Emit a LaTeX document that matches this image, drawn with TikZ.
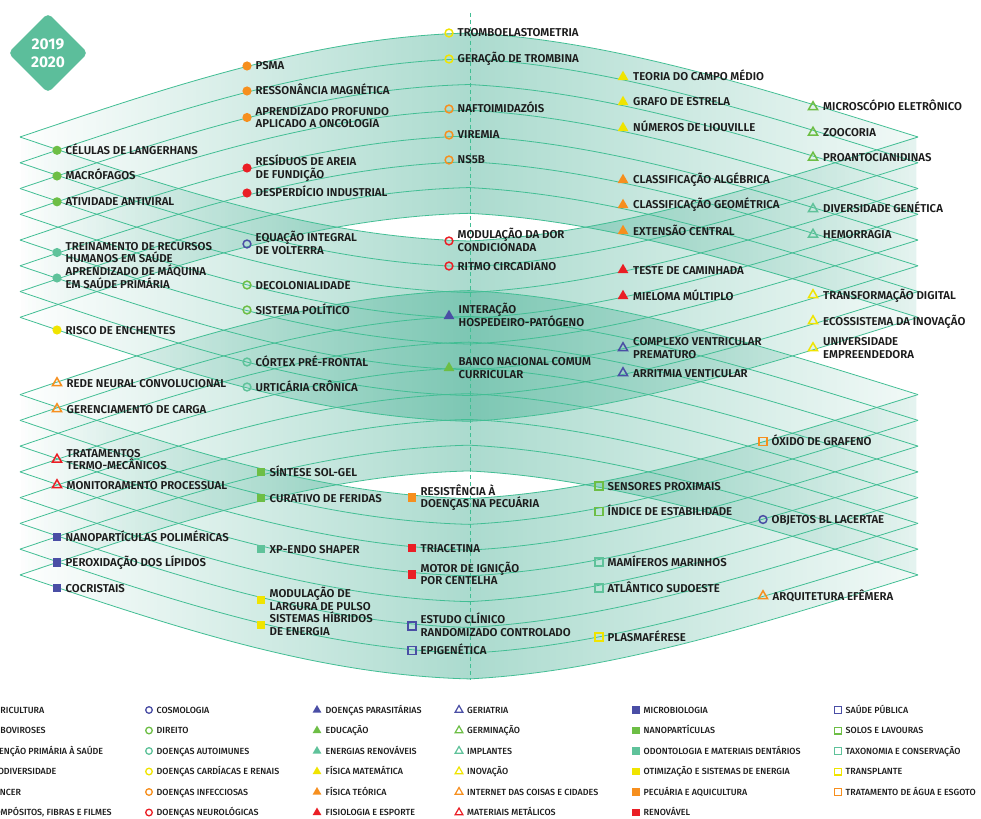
\documentclass[tikz,border=0pt]{standalone}
\usepackage{fontspec}
\setmainfont{Fira Sans}
\newfontfamily\medfont{Fira Sans SemiBold}
\newfontfamily\lgfont{Fira Sans Medium}
\usetikzlibrary{shapes.geometric,fadings}

\definecolor{cblue}{RGB}{74,78,165}
\definecolor{cgreen}{RGB}{109,190,69}
\definecolor{cteal}{RGB}{95,194,154}
\definecolor{cyellow}{RGB}{240,228,0}
\definecolor{corange}{RGB}{246,143,30}
\definecolor{cred}{RGB}{234,30,37}
\definecolor{linec}{RGB}{66,190,148}
\definecolor{bandc}{RGB}{70,176,148}
\definecolor{badgec}{RGB}{92,190,155}
\definecolor{txt}{RGB}{28,28,28}

\tikzfading[name=bandfade, left color=transparent!100, right color=transparent!85, middle color=transparent!0]

\pgfmathdeclarefunction{archf}{1}{\pgfmathparse{(#1<469.5)?(sin(((#1-20)/449)*90)-0.035*sin(((#1-20)/449)*180)):(sin(((918-#1)/449)*90)-0.07*sin(((918-#1)/449)*180))}}

\newcommand\mkone[6][8.5]{%
  \node[#3] (#2) at (#4,#5) {};
  \node[lbl] (#2t) at ([xshift=#1pt,yshift=-4pt]#2.center) {#6};}
\newcommand\mktwo[7][8.5]{%
  \node[#3] (#2) at (#4,#5) {};
  \node[lbl] (#2t) at ([xshift=#1pt,yshift=2.25pt]#2.center) {#6};
  \node[lbl] (#2u) at ([xshift=#1pt,yshift=-10.25pt]#2.center) {#7};}
\newcommand\lgd[6][7.5]{%
  \node[#3] (#2) at (#4,#5) {};
  \node[lgl] (#2t) at ([xshift=#1pt,yshift=-3.05pt]#2.center) {#6};}

\begin{document}
\begin{tikzpicture}[x=1pt,y=-1pt,
  arcline/.style={draw=linec, line width=0.8pt},
  bandfill/.style={fill=bandc, fill opacity=0.45, path fading=bandfade},
  lbl/.style={anchor=base west, inner sep=0pt, text=txt, font=\medfont\fontsize{11.4}{13}\selectfont},
  lgl/.style={anchor=base west, inner sep=0pt, text=txt, font=\lgfont\fontsize{8.9}{10}\selectfont},
  mkfc/.style={circle, fill=#1, draw=none, inner sep=0pt, minimum size=9.2pt},
  mkoc/.style={circle, draw=#1, fill=none, line width=1.5pt, inner sep=0pt, minimum size=7.8pt},
  mkft/.style={regular polygon, regular polygon sides=3, fill=#1, draw=none, inner sep=0pt, minimum size=12.5pt},
  mkot/.style={regular polygon, regular polygon sides=3, draw=#1, fill=none, line width=1.5pt, inner sep=0pt, minimum size=10.5pt},
  mkfs/.style={rectangle, fill=#1, draw=none, inner sep=0pt, minimum size=8.8pt},
  mkos/.style={rectangle, draw=#1, fill=none, line width=1.5pt, inner sep=0pt, minimum size=7.8pt},
  lfc/.style={mkfc=#1, minimum size=7.4pt},
  loc/.style={mkoc=#1, minimum size=6.6pt, line width=1.3pt},
  lft/.style={mkft=#1, minimum size=10pt},
  lot/.style={mkot=#1, minimum size=9pt, line width=1.2pt},
  lfs/.style={mkfs=#1, minimum size=7.4pt},
  los/.style={mkos=#1, minimum size=6.8pt, line width=1.2pt}
]
\useasboundingbox (0,0) rectangle (981,818);
\fill[white] (0,0) rectangle (981,818);
\clip (0,0) rectangle (981,818);

% bands
\fill[bandfill] plot[domain=20:918,samples=111,variable=\xx] (\xx,{137-104*archf(\xx)}) -- plot[domain=918:20,samples=111,variable=\xx] (\xx,{317.32-104*archf(\xx)}) -- cycle;
\fill[bandfill] plot[domain=20:918,samples=111,variable=\xx] (\xx,{137+104*archf(\xx)}) -- plot[domain=918:20,samples=111,variable=\xx] (\xx,{317.32+104*archf(\xx)}) -- cycle;
\fill[bandfill] plot[domain=20:918,samples=111,variable=\xx] (\xx,{394.6-104*archf(\xx)}) -- plot[domain=918:20,samples=111,variable=\xx] (\xx,{574.92-104*archf(\xx)}) -- cycle;
\fill[bandfill] plot[domain=20:918,samples=111,variable=\xx] (\xx,{394.6+104*archf(\xx)}) -- plot[domain=918:20,samples=111,variable=\xx] (\xx,{574.92+104*archf(\xx)}) -- cycle;

% arches
\foreach \k in {0,1,2,3,4,5,6,7,10,11,12,13,14,15,16,17}{
  \pgfmathsetmacro\yy{137+25.76*\k}
  \draw[arcline] plot[domain=20:918,samples=111,variable=\xx] (\xx,{\yy-104*archf(\xx)});
  \draw[arcline] plot[domain=20:918,samples=111,variable=\xx] (\xx,{\yy+104*archf(\xx)});
}

% centre dashed line
\coordinate (dtop) at (470,13);
\coordinate (dbot) at (470,680);
\draw[linec, line width=0.9pt, dash pattern=on 4pt off 3pt] (dtop) -- (dbot);

% column A
\mkone{a1}{mkfc=cgreen}{57}{150.3}{CÉLULAS DE LANGERHANS}
\mkone{a2}{mkfc=cgreen}{57}{176}{MACRÓFAGOS}
\mkone{a3}{mkfc=cgreen}{57}{201.8}{ATIVIDADE ANTIVIRAL}
\mktwo{a4}{mkfc=cteal}{57}{252.5}{TREINAMENTO DE RECURSOS}{HUMANOS EM SAÚDE}
\mktwo{a5}{mkfc=cteal}{57}{278}{APRENDIZADO DE MÁQUINA}{EM SAÚDE PRIMÁRIA}
\mkone{a6}{mkfc=cyellow}{57}{330}{RISCO DE ENCHENTES}
\mkone[9.5]{a7}{mkot=corange}{57}{383}{REDE NEURAL CONVOLUCIONAL}
\mkone[9.5]{a8}{mkot=corange}{57}{409}{GERENCIAMENTO DE CARGA}
\mktwo[9.5]{a9}{mkot=cred}{57}{459.5}{TRATAMENTOS}{TERMO-MECÂNICOS}
\mkone[9.5]{a10}{mkot=cred}{57}{485}{MONITORAMENTO PROCESSUAL}
\mkone{a11}{mkfs=cblue}{57}{537}{NANOPARTÍCULAS POLIMÉRICAS}
\mkone{a12}{mkfs=cblue}{57}{562.5}{PEROXIDAÇÃO DOS LÍPIDOS}
\mkone{a13}{mkfs=cblue}{57}{588}{COCRISTAIS}

% column B
\mkone{b1}{mkfc=corange}{247}{66}{PSMA}
\mkone{b2}{mkfc=corange}{247}{91}{RESSONÂNCIA MAGNÉTICA}
\mktwo{b3}{mkfc=corange}{247}{117.5}{APRENDIZADO PROFUNDO}{APLICADO A ONCOLOGIA}
\mktwo{b4}{mkfc=cred}{247}{168}{RESÍDUOS DE AREIA}{DE FUNDIÇÃO}
\mkone{b5}{mkfc=cred}{247}{193}{DESPERDÍCIO INDUSTRIAL}
\mktwo{b6}{mkoc=cblue}{247}{244}{EQUAÇÃO INTEGRAL}{DE VOLTERRA}
\mkone{b7}{mkoc=cgreen}{247}{285}{DECOLONIALIDADE}
\mkone{b8}{mkoc=cgreen}{247}{310}{SISTEMA POLÍTICO}
\mkone{b9}{mkoc=cteal}{247}{362}{CÓRTEX PRÉ-FRONTAL}
\mkone{b10}{mkoc=cteal}{247}{387}{URTICÁRIA CRÔNICA}

% column B'
\mkone{c1}{mkfs=cgreen}{261}{472}{SÍNTESE SOL-GEL}
\mkone{c2}{mkfs=cgreen}{261}{498}{CURATIVO DE FERIDAS}
\mkone{c3}{mkfs=cteal}{261}{549}{XP-ENDO SHAPER}
\mktwo{c4}{mkfs=cyellow}{261}{600}{MODULAÇÃO DE}{LARGURA DE PULSO}
\mktwo{c5}{mkfs=cyellow}{261}{625}{SISTEMAS HÍBRIDOS}{DE ENERGIA}

% column C
\mkone{d1}{mkoc=cyellow}{449}{33}{TROMBOELASTOMETRIA}
\mkone{d2}{mkoc=cyellow}{449}{59}{GERAÇÃO DE TROMBINA}
\mkone{d3}{mkoc=corange}{449}{109}{NAFTOIMIDAZÓIS}
\mkone{d4}{mkoc=corange}{449}{135}{VIREMIA}
\mkone{d5}{mkoc=corange}{449}{160}{NS5B}
\mktwo{d6}{mkoc=cred}{449}{241}{MODULAÇÃO DA DOR}{CONDICIONADA}
\mkone{d7}{mkoc=cred}{449}{266}{RITMO CIRCADIANO}
\mktwo[9.5]{d8}{mkft=cblue}{449}{316}{INTERAÇÃO}{HOSPEDEIRO-PATÓGENO}
\mktwo[9.5]{d9}{mkft=cgreen}{449}{368}{BANCO NACIONAL COMUM}{CURRICULAR}

% column C'
\mktwo{e1}{mkfs=corange}{412}{497.5}{RESISTÊNCIA À}{DOENÇAS NA PECUÁRIA}
\mkone{e2}{mkfs=cred}{412}{548}{TRIACETINA}
\mktwo{e3}{mkfs=cred}{412}{574.5}{MOTOR DE IGNIÇÃO}{POR CENTELHA}
\mktwo{e4}{mkos=cblue}{412}{626}{ESTUDO CLÍNICO}{RANDOMIZADO CONTROLADO}
\mkone{e5}{mkos=cblue}{412}{650.5}{EPIGENÉTICA}

% column D
\mkone[10]{f1}{mkft=cyellow}{623}{77}{TEORIA DO CAMPO MÉDIO}
\mkone[10]{f2}{mkft=cyellow}{623}{102}{GRAFO DE ESTRELA}
\mkone[10]{f3}{mkft=cyellow}{623}{128}{NÚMEROS DE LIOUVILLE}
\mkone[10]{f4}{mkft=corange}{623}{180}{CLASSIFICAÇÃO ALGÉBRICA}
\mkone[10]{f5}{mkft=corange}{623}{205}{CLASSIFICAÇÃO GEOMÉTRICA}
\mkone[10]{f6}{mkft=corange}{623}{231}{EXTENSÃO CENTRAL}
\mkone[10]{f7}{mkft=cred}{623}{270}{TESTE DE CAMINHADA}
\mkone[10]{f8}{mkft=cred}{623}{296}{MIELOMA MÚLTIPLO}
\mktwo[10]{f9}{mkot=cblue}{623}{348}{COMPLEXO VENTRICULAR}{PREMATURO}
\mkone[10]{f10}{mkot=cblue}{623}{373}{ARRITMIA VENTICULAR}

% column D'
\mkone{g1}{mkos=cgreen}{599}{486}{SENSORES PROXIMAIS}
\mkone{g2}{mkos=cgreen}{599}{511.5}{ÍNDICE DE ESTABILIDADE}
\mkone{g3}{mkos=cteal}{599}{562}{MAMÍFEROS MARINHOS}
\mkone{g4}{mkos=cteal}{599}{588}{ATLÂNTICO SUDOESTE}
\mkone{g5}{mkos=cyellow}{599}{637}{PLASMAFÉRESE}

% column E
\mkone[10]{h1}{mkot=cgreen}{813}{107}{MICROSCÓPIO ELETRÔNICO}
\mkone[10]{h2}{mkot=cgreen}{813}{132.5}{ZOOCORIA}
\mkone[10]{h3}{mkot=cgreen}{813}{157.5}{PROANTOCIANIDINAS}
\mkone[10]{h4}{mkot=cteal}{813}{209}{DIVERSIDADE GENÉTICA}
\mkone[10]{h5}{mkot=cteal}{813}{234.5}{HEMORRAGIA}
\mkone[10]{h6}{mkot=cyellow}{813}{295}{TRANSFORMAÇÃO DIGITAL}
\mkone[10]{h7}{mkot=cyellow}{813}{321}{ECOSSISTEMA DA INOVAÇÃO}
\mktwo[10]{h8}{mkot=cyellow}{813}{348}{UNIVERSIDADE}{EMPREENDEDORA}

% column E'
\mkone{i1}{mkos=corange}{763}{441.5}{ÓXIDO DE GRAFENO}
\mkone{i2}{mkoc=cblue}{763}{519.5}{OBJETOS BL LACERTAE}
\mkone[9.5]{i3}{mkot=corange}{763}{596}{ARQUITETURA EFÊMERA}

% badge
\node[diamond, fill=badgec, draw=none, minimum width=80pt, minimum height=80pt, inner sep=0pt,
      rounded corners=5pt, text=white, align=center,
      font=\bfseries\fontsize{15.5}{18}\selectfont] (badge) at (48,53) {2019\\2020};

% legend
\lgd{l00}{lfc=cblue}{-18}{710}{AGRICULTURA}
\lgd{l01}{lfc=cgreen}{-18}{730.5}{ARBOVIROSES}
\lgd{l02}{lfc=cteal}{-18}{751}{ATENÇÃO PRIMÁRIA À SAÚDE}
\lgd{l03}{lfc=cyellow}{-18}{771.5}{BIODIVERSIDADE}
\lgd{l04}{lfc=corange}{-18}{792}{CÂNCER}
\lgd{l05}{lfc=cred}{-18}{812.5}{COMPÓSITOS, FIBRAS E FILMES}

\lgd{l10}{loc=cblue}{149}{710}{COSMOLOGIA}
\lgd{l11}{loc=cgreen}{149}{730.5}{DIREITO}
\lgd{l12}{loc=cteal}{149}{751}{DOENÇAS AUTOIMUNES}
\lgd{l13}{loc=cyellow}{149}{771.5}{DOENÇAS CARDÍACAS E RENAIS}
\lgd{l14}{loc=corange}{149}{792}{DOENÇAS INFECCIOSAS}
\lgd{l15}{loc=cred}{149}{812.5}{DOENÇAS NEUROLÓGICAS}

\lgd[8.5]{l20}{lft=cblue}{317}{710}{DOENÇAS PARASITÁRIAS}
\lgd[8.5]{l21}{lft=cgreen}{317}{730.5}{EDUCAÇÃO}
\lgd[8.5]{l22}{lft=cteal}{317}{751}{ENERGIAS RENOVÁVEIS}
\lgd[8.5]{l23}{lft=cyellow}{317}{771.5}{FÍSICA MATEMÁTICA}
\lgd[8.5]{l24}{lft=corange}{317}{792}{FÍSICA TEÓRICA}
\lgd[8.5]{l25}{lft=cred}{317}{812.5}{FISIOLOGIA E ESPORTE}

\lgd[8]{l30}{lot=cblue}{459}{710}{GERIATRIA}
\lgd[8]{l31}{lot=cgreen}{459}{730.5}{GERMINAÇÃO}
\lgd[8]{l32}{lot=cteal}{459}{751}{IMPLANTES}
\lgd[8]{l33}{lot=cyellow}{459}{771.5}{INOVAÇÃO}
\lgd[8]{l34}{lot=corange}{459}{792}{INTERNET DAS COISAS E CIDADES}
\lgd[8]{l35}{lot=cred}{459}{812.5}{MATERIAIS METÁLICOS}

\lgd{l40}{lfs=cblue}{636}{710}{MICROBIOLOGIA}
\lgd{l41}{lfs=cgreen}{636}{730.5}{NANOPARTÍCULAS}
\lgd{l42}{lfs=cteal}{636}{751}{ODONTOLOGIA E MATERIAIS DENTÁRIOS}
\lgd{l43}{lfs=cyellow}{636}{771.5}{OTIMIZAÇÃO E SISTEMAS DE ENERGIA}
\lgd{l44}{lfs=corange}{636}{792}{PECUÁRIA E AQUICULTURA}
\lgd{l45}{lfs=cred}{636}{812.5}{RENOVÁVEL}

\lgd{l50}{los=cblue}{838}{710}{SAÚDE PÚBLICA}
\lgd{l51}{los=cgreen}{838}{730.5}{SOLOS E LAVOURAS}
\lgd{l52}{los=cteal}{838}{751}{TAXONOMIA E CONSERVAÇÃO}
\lgd{l53}{los=cyellow}{838}{771.5}{TRANSPLANTE}
\lgd{l54}{los=corange}{838}{792}{TRATAMENTO DE ÁGUA E ESGOTO}
\end{tikzpicture}
\end{document}
